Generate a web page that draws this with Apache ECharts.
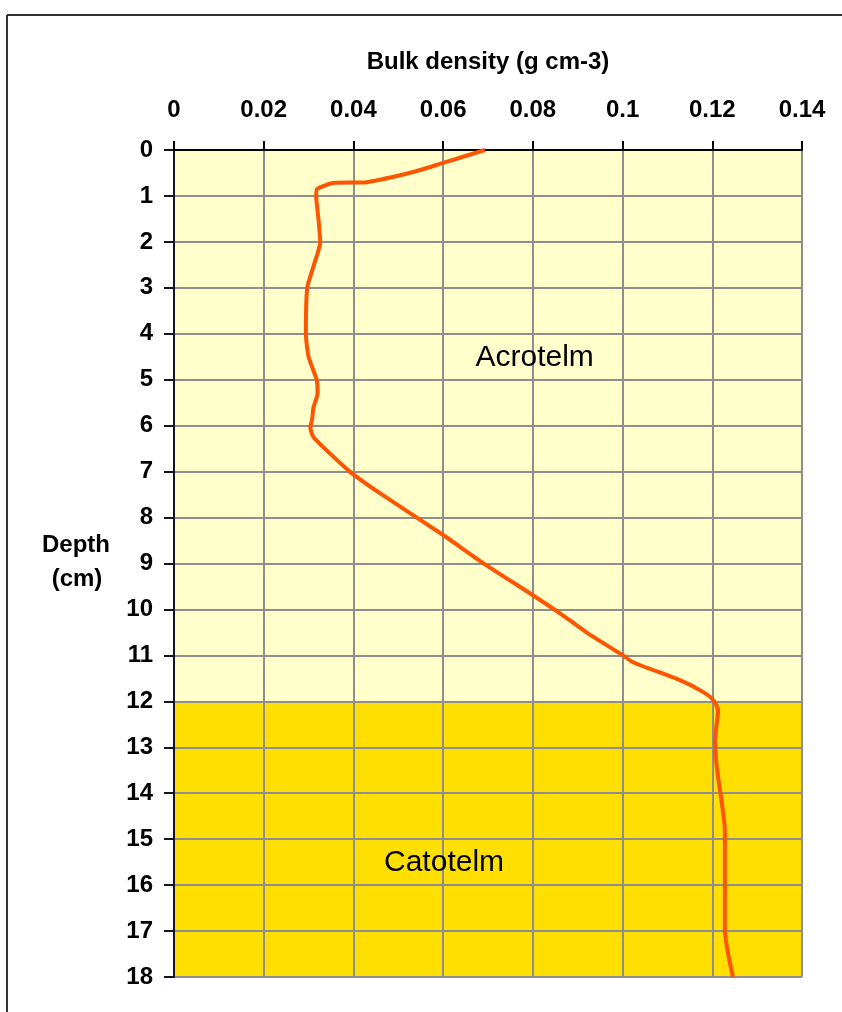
<!DOCTYPE html>
<html><head><meta charset="utf-8">
<script src="https://cdn.jsdelivr.net/npm/echarts@6/dist/echarts.min.js"></script>
<style>html,body{margin:0;padding:0;background:#fff}#c{width:842px;height:1012px}</style>
</head><body><div id="c"></div>
<script>
// Bulk density (g cm-3) vs depth (cm)
const density = [0.0693,0.060,0.0533,0.043,0.0355,0.0319,0.0317,0.0322,0.0326,0.0312,0.0297,0.0294,0.0300,0.0318,0.0320,0.0311,0.0308,0.0304,0.0311,0.0332,0.0392,0.0459,0.060,0.0689,0.080,0.0860,0.0921,0.1001,0.1023,0.1128,0.118,0.1202,0.1213,0.1206,0.121,0.1221,0.1228,0.1228,0.1235,0.1246];
const depth   = [0,0.28,0.48,0.70,0.72,0.85,1.0,1.5,2.0,2.5,3.0,4.0,4.5,5.0,5.3,5.6,5.85,6.05,6.25,6.46,7.0,7.47,8.38,8.99,9.69,10.08,10.51,11.0,11.15,11.54,11.8,11.97,12.19,12.84,13.43,14.2,14.8,16.98,17.48,18];
const zoneNames = ['Acrotelm','Catotelm'];
const zoneFrom  = [0,12];
const zoneTo    = [12,18];
const zoneLabelX = [0.0804,0.0602];
const zoneLabelY = [4.52,15.52];
const xTicks = {min:0,max:0.14,interval:0.02};
const yTicks = {min:0,max:18,interval:1};

const chart = echarts.init(document.getElementById('c'),null,{renderer:'canvas'});
const font = '"Liberation Sans", Arial, sans-serif';
const zoneColors = ['#FFFFCC','#FFDF00'];
chart.setOption({
  animation:false,
  backgroundColor:'#fff',
  grid:{left:174,top:150,width:628,height:827,show:false},
  xAxis:{type:'value',position:'top',min:xTicks.min,max:xTicks.max,interval:xTicks.interval,z:3,
    name:'Bulk density (g cm-3)',nameLocation:'middle',nameGap:76,
    nameTextStyle:{fontFamily:font,fontWeight:'bold',fontSize:24,color:'#000'},
    axisLine:{show:true,lineStyle:{color:'#000',width:2}},
    axisTick:{show:true,length:9,lineStyle:{color:'#000',width:2}},
    axisLabel:{margin:28,fontFamily:font,fontWeight:'bold',fontSize:24,color:'#000',
      formatter:v=>String(+v.toFixed(2))},
    splitLine:{show:true,lineStyle:{color:'#8e8e8e',width:2}}
  },
  yAxis:{type:'value',inverse:true,min:yTicks.min,max:yTicks.max,interval:yTicks.interval,z:3,
    axisLine:{show:true,lineStyle:{color:'#141428',width:2}},
    axisTick:{show:true,length:10,lineStyle:{color:'#141428',width:2}},
    axisLabel:{margin:21,fontFamily:font,fontWeight:'bold',fontSize:24,color:'#000'},
    splitLine:{show:true,lineStyle:{color:'#8e8e8e',width:2}}
  },
  graphic:[
    {type:'line',shape:{x1:7,y1:15,x2:842,y2:15},style:{stroke:'#333',lineWidth:2}},
    {type:'line',shape:{x1:7,y1:15,x2:7,y2:1012},style:{stroke:'#333',lineWidth:2}},
    {type:'text',x:76,y:545,style:{text:'Depth',font:'bold 24px '+font,fill:'#000',align:'center',verticalAlign:'middle'}},
    {type:'text',x:77,y:579,style:{text:'(cm)',font:'bold 24px '+font,fill:'#000',align:'center',verticalAlign:'middle'}}
  ],
  series:[
    {type:'custom',z:1,silent:true,
     data:zoneFrom.map((f,i)=>[f,zoneTo[i],i]),
     renderItem:(params,api)=>{
       const p0=api.coord([xTicks.min,api.value(0)]);
       const p1=api.coord([xTicks.max,api.value(1)]);
       return {type:'rect',shape:{x:p0[0],y:p0[1],width:p1[0]-p0[0],height:p1[1]-p0[1]},
         style:{fill:zoneColors[api.value(2)]}};
     }
    },
    {type:'line',data:density.map((d,i)=>[d,depth[i]]),symbol:'none',smooth:0.2,z:5,
     lineStyle:{color:'#FF5400',width:4}
    },
    {type:'scatter',symbolSize:0,z:6,data:zoneNames.map((n,i)=>({value:[zoneLabelX[i],zoneLabelY[i]],name:n})),
     label:{show:true,position:'inside',formatter:p=>p.name,fontFamily:font,fontSize:30,color:'#000',opacity:1}}
  ]
});
</script></body></html>
